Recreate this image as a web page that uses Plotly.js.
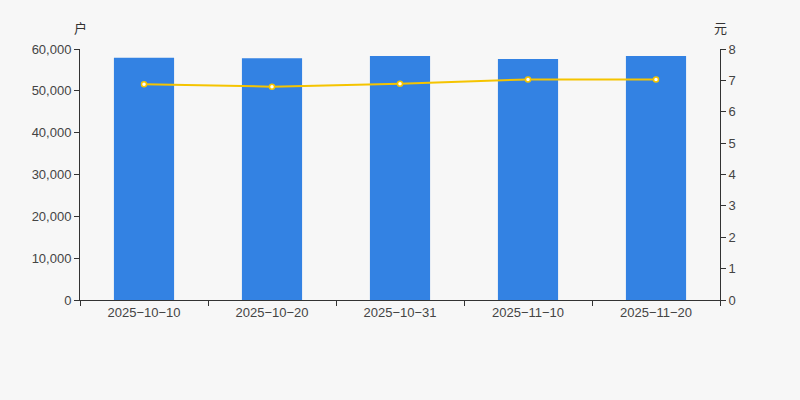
<!DOCTYPE html>
<html><head><meta charset="utf-8">
<script src="https://cdn.plot.ly/plotly-3.0.1.min.js"></script>
<style>html,body{margin:0;padding:0;background:#f7f7f7;}#c{width:800px;height:400px;}</style>
</head><body><div id="c"></div>
<script>
const dates = ["2025-10-10","2025-10-20","2025-10-31","2025-11-10","2025-11-20"];
const holders = [57900, 57800, 58300, 57600, 58300];
const avgValue = [6.88, 6.80, 6.89, 7.03, 7.03];
const leftTicks = [0,10000,20000,30000,40000,50000,60000];
const rightTicks = [0,1,2,3,4,5,6,7,8];
const dateLabels = dates.map(d => d.replace(/-/g, "\u2212"));

const tickFont = {family:"Liberation Sans, Arial, sans-serif", size:13, color:"#444"};
Plotly.newPlot("c", [
  {type:"bar", x:dates, y:holders, marker:{color:"#3382e3"}, width:0.47, hoverinfo:"x+y"},
  {type:"scatter", mode:"lines+markers", x:dates, y:avgValue, yaxis:"y2",
   line:{color:"#f5c400", width:2}, marker:{color:"#ffffff", size:5, line:{color:"#f5c400", width:1.5}}}
], {
  width:800, height:400, showlegend:false,
  paper_bgcolor:"#f7f7f7", plot_bgcolor:"#f7f7f7",
  margin:{l:80, r:80, t:49, b:100},
  bargap:0.53,
  xaxis:{type:"category", tickvals:dates, ticktext:dateLabels, showline:true, linecolor:"#333", linewidth:1, ticks:"outside", tickson:"boundaries",
         ticklen:5, tickcolor:"#333", showgrid:false, tickfont:tickFont, zeroline:false},
  yaxis:{range:[0,60000], tickvals:leftTicks, tickformat:",d", showline:true, linecolor:"#333", ticks:"outside",
         ticklen:5, tickcolor:"#333", showgrid:false, zeroline:false, tickfont:tickFont},
  yaxis2:{range:[0,8], tickvals:rightTicks, overlaying:"y", side:"right", showline:true, linecolor:"#333",
          ticks:"outside", ticklen:5, tickcolor:"#333", showgrid:false, zeroline:false, tickfont:tickFont},
  annotations:[
    {text:"户", xref:"paper", yref:"paper", x:0, y:1, xanchor:"center", yanchor:"middle", yshift:22, showarrow:false,
     font:{family:"Noto Sans CJK SC", size:13, color:"#333"}},
    {text:"元", xref:"paper", yref:"paper", x:1, y:1, xanchor:"center", yanchor:"middle", yshift:22, showarrow:false,
     font:{family:"Noto Sans CJK SC", size:13, color:"#333"}}
  ]
}, {displayModeBar:false, staticPlot:true});
</script></body></html>
